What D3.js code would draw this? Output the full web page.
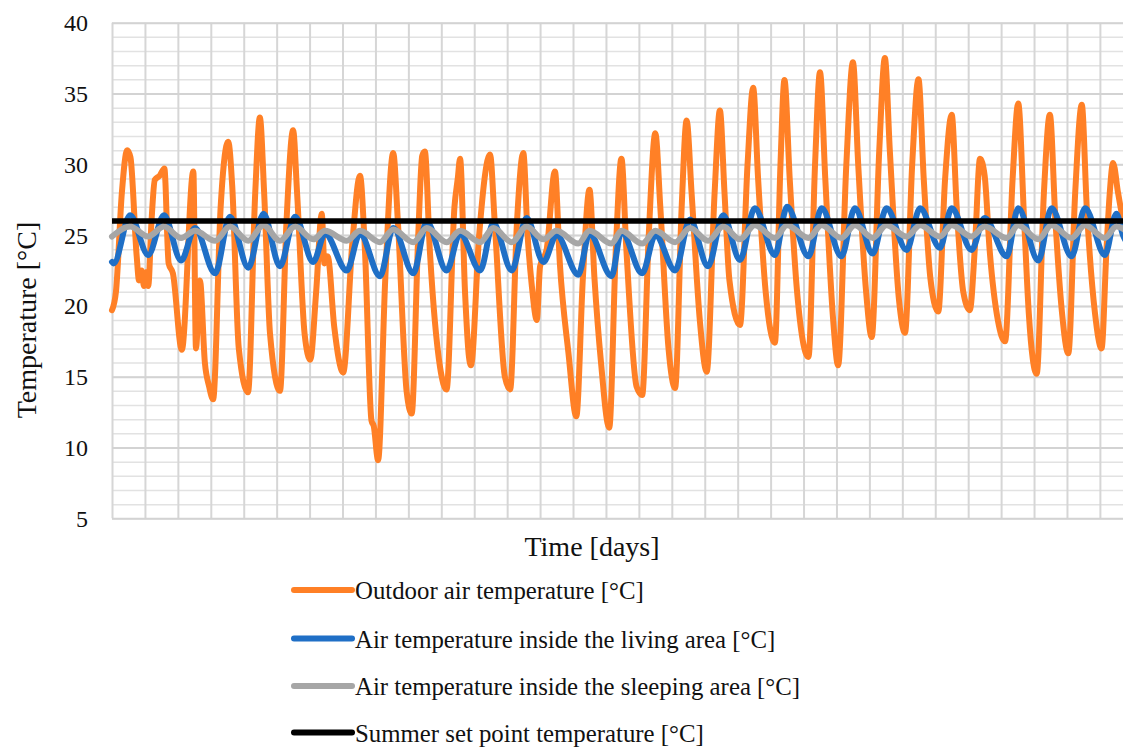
<!DOCTYPE html>
<html><head><meta charset="utf-8">
<script src="https://cdn.jsdelivr.net/npm/d3@7"></script>
<style>
html,body{margin:0;padding:0;background:#fff;}
svg{display:block;}
text{font-family:"Liberation Serif","Times New Roman",serif;fill:#111;}
</style>
</head><body>
<svg id="chart" width="1123" height="749"></svg>
<script>
// ---- data (day, °C) ----
const yTicks = [5, 10, 15, 20, 25, 30, 35, 40];
const dayCount = 31;
const setPoint = 26;
const seriesNames = [
  "Outdoor air temperature [°C]",
  "Air temperature inside the living area [°C]",
  "Air temperature inside the sleeping area [°C]",
  "Summer set point temperature [°C]"
];
const seriesColors = ["#ff8026", "#1f6fc6", "#a6a6a6", "#000000"];

const outdoorPoints = [
  [0.00,19.7],[0.12,21.0],[0.30,28.0],[0.46,31.0],[0.56,30.5],[0.75,23.5],[0.82,21.8],[0.90,22.5],[0.97,21.4],[1.05,22.4],
  [1.10,21.4],[1.20,26.0],[1.30,28.9],[1.45,29.2],[1.59,29.7],[1.72,23.0],[1.85,22.3],[2.12,16.9],[2.47,29.5],[2.55,17.0],
  [2.67,21.8],[2.82,16.0],[2.95,14.3],[3.07,13.4],[3.30,27.0],[3.53,31.6],[3.65,28.5],[3.85,17.0],[4.13,13.9],[4.35,28.0],
  [4.49,33.3],[4.62,28.0],[4.80,18.0],[5.10,14.0],[5.30,26.0],[5.50,32.4],[5.62,28.0],[5.85,18.0],[6.02,16.2],[6.20,21.0],
  [6.37,26.5],[6.45,23.0],[6.55,23.5],[6.75,18.5],[7.02,15.3],[7.30,24.5],[7.53,29.2],[7.68,24.0],[7.88,11.9],[7.95,11.5],
  [8.08,9.1],[8.30,22.0],[8.54,30.8],[8.68,26.0],[8.95,13.9],[9.10,12.4],[9.30,25.0],[9.42,30.6],[9.50,30.9],[9.65,24.0],
  [9.96,15.7],[10.16,14.1],[10.40,27.0],[10.50,29.0],[10.57,30.4],[10.72,21.0],[10.84,16.4],[10.90,15.8],[11.15,25.0],[11.48,30.7],
  [11.62,26.0],[11.93,15.0],[12.09,14.1],[12.30,26.0],[12.49,30.8],[12.62,25.0],[12.75,21.4],[12.90,19.0],[13.00,22.8],[13.20,24.0],
  [13.45,29.5],[13.60,23.0],[13.86,16.7],[14.10,12.2],[14.30,22.0],[14.50,28.2],[14.65,22.0],[14.85,16.0],[15.10,11.4],[15.30,24.0],
  [15.47,30.4],[15.62,24.0],[15.93,14.3],[16.10,13.7],[16.30,25.0],[16.50,32.2],[16.65,27.0],[16.90,17.0],[17.10,14.2],[17.30,27.0],
  [17.45,33.1],[17.60,28.0],[17.85,19.0],[18.06,15.35],[18.30,28.0],[18.46,33.8],[18.60,28.0],[18.75,21.8],[19.07,18.65],[19.30,30.0],
  [19.47,35.4],[19.62,29.0],[19.85,21.0],[20.13,17.4],[20.30,30.0],[20.42,35.95],[20.58,29.0],[20.80,21.1],[21.15,16.4],[21.35,30.0],
  [21.50,36.5],[21.66,29.0],[21.90,19.0],[22.05,15.8],[22.30,30.0],[22.50,37.2],[22.66,30.0],[22.90,21.0],[23.07,17.8],[23.30,31.0],
  [23.47,37.5],[23.62,31.0],[23.90,20.4],[24.08,18.1],[24.30,30.0],[24.49,36.0],[24.65,29.0],[24.85,22.0],[25.09,19.6],[25.30,29.0],
  [25.50,33.5],[25.65,27.0],[25.85,21.0],[26.05,19.7],[26.20,24.0],[26.36,30.4],[26.50,29.2],[26.65,24.0],[26.90,19.0],[27.12,17.5],
  [27.35,29.0],[27.52,34.3],[27.70,26.0],[27.84,19.5],[28.08,15.2],[28.30,28.0],[28.48,33.5],[28.65,26.0],[28.85,19.5],[29.04,16.65],
  [29.25,28.0],[29.45,34.2],[29.60,27.0],[29.85,19.5],[30.05,17.0],[30.20,24.0],[30.30,28.0],[30.40,30.1],[30.55,28.0],[30.70,26.0],
  [31.00,22.0]
];

const livingPoints = [
  [0.00,23.1],[0.05,23.0],[0.55,26.4],[1.10,23.6],[1.58,26.4],[2.10,23.2],[2.52,25.5],[3.13,22.3],[3.58,26.3],[4.14,22.7],
  [4.60,26.5],[5.10,22.8],[5.56,26.3],[6.11,23.1],[6.47,25.1],[7.13,22.5],[7.53,25.1],[8.14,22.1],[8.54,25.5],[9.15,22.3],
  [9.56,25.95],[10.16,22.5],[10.57,25.1],[11.18,22.5],[11.58,25.85],[12.14,22.5],[12.59,26.2],[13.10,23.1],[13.50,25.0],[14.16,22.2],
  [14.50,25.1],[15.17,22.1],[15.47,25.25],[16.10,22.3],[16.50,25.0],[17.10,22.5],[17.55,26.1],[18.10,22.8],[18.56,26.4],[19.07,23.25],
  [19.52,26.9],[20.13,23.6],[20.50,27.0],[21.15,23.5],[21.55,26.9],[22.15,23.5],[22.56,26.9],[23.10,23.7],[23.52,26.9],[24.13,23.95],
  [24.54,26.9],[25.14,24.1],[25.50,26.9],[26.10,23.95],[26.50,26.2],[27.17,23.5],[27.52,26.9],[28.13,23.2],[28.53,26.9],[29.14,23.5],
  [29.55,26.9],[30.15,23.6],[30.50,26.5],[30.70,25.0],[31.00,24.0]
];

const sleepingPoints = [
  [0.00,24.9],[0.55,25.6],[1.10,24.9],[1.58,25.6],[2.10,24.8],[2.52,25.3],[3.13,24.6],[3.58,25.6],[4.14,24.6],[4.60,25.7],
  [5.10,24.6],[5.56,25.6],[6.11,24.7],[6.47,25.3],[7.13,24.6],[7.53,25.3],[8.14,24.5],[8.54,25.4],[9.15,24.5],[9.56,25.5],
  [10.16,24.5],[10.57,25.3],[11.18,24.5],[11.58,25.5],[12.14,24.5],[12.59,25.6],[13.10,24.7],[13.50,25.3],[14.16,24.4],[14.50,25.3],
  [15.17,24.4],[15.47,25.3],[16.10,24.4],[16.50,25.3],[17.10,24.5],[17.55,25.5],[18.10,24.6],[18.56,25.6],[19.07,24.7],[19.52,25.7],
  [20.13,24.8],[20.50,25.7],[21.15,24.8],[21.55,25.7],[22.15,24.8],[22.56,25.7],[23.10,24.8],[23.52,25.7],[24.13,24.9],[24.54,25.7],
  [25.14,24.9],[25.50,25.7],[26.10,24.9],[26.50,25.6],[27.17,24.8],[27.52,25.7],[28.13,24.7],[28.53,25.7],[29.14,24.8],[29.55,25.7],
  [30.15,24.8],[30.50,25.6],[31.00,24.9]
];

const setPointPoints = [[0, setPoint], [dayCount, setPoint]];

// ---- layout ----
const svg = d3.select("#chart");
const plotLeft = 112, plotTop = 22.7, plotBottom = 518.3, dayW = 32.93;
const x = d3.scaleLinear().domain([0, dayCount]).range([plotLeft, plotLeft + dayCount * dayW]);
const y = d3.scaleLinear().domain([5, 40]).range([plotBottom, plotTop]);
const plotW = x(dayCount) - plotLeft;

// minor horizontal grid (every 1 °C)
svg.append("g")
  .attr("transform", `translate(${plotLeft},0)`)
  .call(d3.axisLeft(y).tickValues(d3.range(5, 41, 1)).tickSize(-plotW).tickFormat(""))
  .call(g => g.select(".domain").remove())
  .call(g => g.selectAll("line").attr("stroke", "#e2e2e2").attr("stroke-width", 1.5));

// vertical grid (days)
svg.append("g")
  .attr("transform", `translate(0,${plotBottom})`)
  .call(d3.axisBottom(x).tickValues(d3.range(0, dayCount + 1, 1)).tickSize(-(plotBottom - plotTop)).tickFormat(""))
  .call(g => g.select(".domain").remove())
  .call(g => g.selectAll("line").attr("stroke", "#d6d6d6").attr("stroke-width", 2));

// major horizontal grid + tick labels
svg.append("g")
  .attr("transform", `translate(${plotLeft},0)`)
  .call(d3.axisLeft(y).tickValues(yTicks).tickSize(-plotW).tickPadding(24).tickFormat(d3.format("d")))
  .call(g => g.select(".domain").remove())
  .call(g => g.selectAll("line").attr("stroke", "#d3d3d3").attr("stroke-width", 2))
  .call(g => g.selectAll("text")
      .attr("font-family", "'Liberation Serif','Times New Roman',serif")
      .attr("font-size", 24).attr("fill", "#111").attr("dy", "0.33em"));

// series
const line = d3.line().x(d => x(d[0])).y(d => y(d[1])).curve(d3.curveMonotoneX);
const straight = d3.line().x(d => x(d[0])).y(d => y(d[1]));
const allSeries = [outdoorPoints, livingPoints, sleepingPoints];
allSeries.forEach((pts, i) => {
  svg.append("path").datum(pts)
    .attr("d", line)
    .attr("fill", "none")
    .attr("stroke", seriesColors[i])
    .attr("stroke-width", 6)
    .attr("stroke-linejoin", "round")
    .attr("stroke-linecap", "round");
});
svg.append("path").datum(setPointPoints)
  .attr("d", straight)
  .attr("fill", "none")
  .attr("stroke", seriesColors[3])
  .attr("stroke-width", 5.5);

// axis titles
svg.append("text")
  .attr("x", 592).attr("y", 556)
  .attr("text-anchor", "middle").attr("font-size", 28)
  .text("Time [days]");
svg.append("text")
  .attr("transform", "translate(36,320) rotate(-90)")
  .attr("text-anchor", "middle").attr("font-size", 28)
  .text("Temperature [°C]");

// legend
const legendY = [590, 638.5, 686, 732.5];
const lg = svg.append("g");
seriesNames.forEach((name, i) => {
  lg.append("line")
    .attr("x1", 294).attr("x2", 352)
    .attr("y1", legendY[i]).attr("y2", legendY[i])
    .attr("stroke", seriesColors[i]).attr("stroke-width", 6)
    .attr("stroke-linecap", "round");
  lg.append("text")
    .attr("x", 355).attr("y", legendY[i] + 9)
    .attr("font-size", 24.8)
    .text(name);
});
</script>
</body></html>
